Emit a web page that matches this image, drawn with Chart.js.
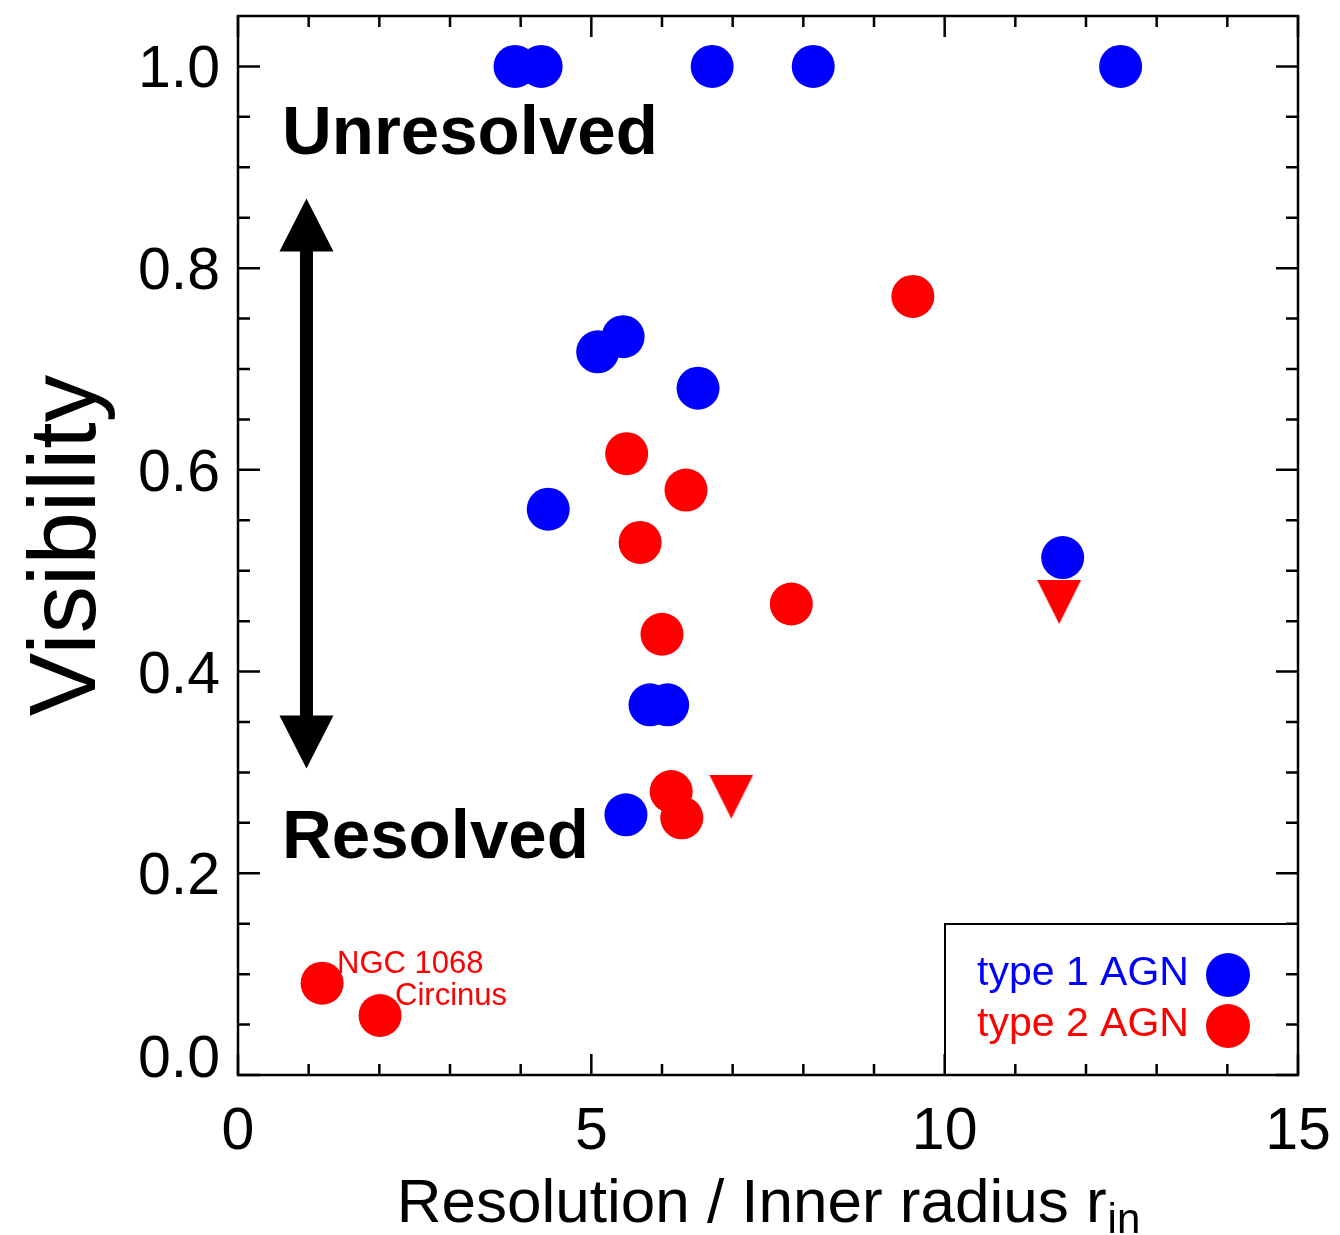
<!DOCTYPE html>
<html lang="en">
<head>
<meta charset="UTF-8">
<title>Visibility vs Resolution</title>
<script src="https://cdn.jsdelivr.net/npm/chart.js"></script>
<style>
  html, body { margin: 0; padding: 0; background: #fff; }
  #wrap { width: 1340px; height: 1235px; }
</style>
</head>
<body>
<div id="wrap"><canvas id="visChart" width="1340" height="1235"></canvas></div>
<script>
// type 1 AGN (blue)
const type1X = [3.92, 4.29, 6.71, 8.14, 12.49, 5.09, 5.45, 6.51, 4.39, 11.67, 5.83, 6.08, 5.49];
const type1Y = [1.00, 1.00, 1.00, 1.00, 1.00, 0.717, 0.732, 0.681, 0.561, 0.513, 0.367, 0.367, 0.258];
// type 2 AGN (red)
const type2X = [9.55, 5.50, 6.34, 5.69, 7.83, 6.00, 6.13, 6.28, 1.19, 2.01];
const type2Y = [0.772, 0.616, 0.580, 0.528, 0.467, 0.437, 0.281, 0.255, 0.091, 0.059];
// type 2 upper limits (down triangles)
const limitX = [6.98, 11.62];
const limitY = [0.276, 0.469];

const xTicks = [0, 5, 10, 15];
const yTicks = [0.0, 0.2, 0.4, 0.6, 0.8, 1.0];
const xRange = [0, 15];
const yRange = [0, 1.05];

const namedSources = ['NGC 1068', 'Circinus'];
const namedX = [1.19, 2.01];
const namedY = [0.091, 0.059];

const FONT = '"Liberation Sans", Arial, Helvetica, sans-serif';
const BLUE = '#0000ff';
const RED = '#ff0000';

function toPoints(xs, ys) {
    return xs.map((x, i) => ({ x: x, y: ys[i] }));
}

// little down-pointing triangle used as the point style of the limits
function triangleMarker(size, color) {
    const c = document.createElement('canvas');
    c.width = size;
    c.height = size;
    const g = c.getContext('2d');
    g.fillStyle = color;
    g.beginPath();
    g.moveTo(0, 0);
    g.lineTo(size, 0);
    g.lineTo(size / 2, size);
    g.closePath();
    g.fill();
    return c;
}

function drawArrow(ctx, x, yTop, yBottom) {
    const head = 53, halfHead = 27, halfShaft = 6.5;
    ctx.beginPath();
    ctx.moveTo(x, yTop);
    ctx.lineTo(x + halfHead, yTop + head);
    ctx.lineTo(x + halfShaft, yTop + head);
    ctx.lineTo(x + halfShaft, yBottom - head);
    ctx.lineTo(x + halfHead, yBottom - head);
    ctx.lineTo(x, yBottom);
    ctx.lineTo(x - halfHead, yBottom - head);
    ctx.lineTo(x - halfShaft, yBottom - head);
    ctx.lineTo(x - halfShaft, yTop + head);
    ctx.lineTo(x - halfHead, yTop + head);
    ctx.closePath();
    ctx.fill();
}

function noScalePadding(s) {
    s.paddingTop = 0;
    s.paddingBottom = 0;
    s.paddingLeft = 0;
    s.paddingRight = 0;
}

const agnPlot = {
    id: 'agnPlot',
    afterDraw(chart) {
        const ctx = chart.ctx;
        const a = chart.chartArea;
        const xs = chart.scales.x;
        const ys = chart.scales.y;
        ctx.save();

        // legend box (no fill, ticks drawn over it)
        ctx.strokeStyle = '#000';
        ctx.lineWidth = 2;
        ctx.strokeRect(a.right - 353, a.bottom - 151, 353, 151);
        ctx.font = '41px ' + FONT;
        ctx.textAlign = 'left';
        ctx.textBaseline = 'alphabetic';
        const entries = chart.data.datasets.filter(d => d.inLegend);
        entries.forEach((d, i) => {
            const base = a.bottom - 90 + i * 51;
            ctx.fillStyle = d.backgroundColor;
            ctx.fillText(d.label, a.right - 321, base);
            ctx.beginPath();
            ctx.arc(a.right - 70, base - 10, 22, 0, Math.PI * 2);
            ctx.fill();
        });

        // frame and inward ticks on all four sides
        ctx.strokeStyle = '#000';
        ctx.lineWidth = 2.5;
        ctx.beginPath();
        for (let i = 0; i <= 15; i++) {
            const v = xRange[0] + i;
            const px = xs.getPixelForValue(v);
            const len = xTicks.includes(v) ? 21 : 11;
            ctx.moveTo(px, a.bottom); ctx.lineTo(px, a.bottom - len);
            ctx.moveTo(px, a.top); ctx.lineTo(px, a.top + len);
        }
        for (let i = 0; i <= 20; i++) {
            const v = i * 0.05;
            const py = ys.getPixelForValue(v);
            const len = (i % 4 === 0) ? 22 : 12;
            ctx.moveTo(a.left, py); ctx.lineTo(a.left + len, py);
            ctx.moveTo(a.right, py); ctx.lineTo(a.right - len, py);
        }
        ctx.stroke();
        ctx.strokeRect(a.left, a.top, a.right - a.left, a.bottom - a.top);

        // y tick labels
        ctx.fillStyle = '#000';
        ctx.font = '59px ' + FONT;
        ctx.textAlign = 'right';
        ctx.textBaseline = 'alphabetic';
        yTicks.forEach((v, i) => {
            const py = ys.getPixelForValue(v);
            const base = i === 0 ? a.bottom + 2 : py + 21;
            ctx.fillText(v.toFixed(1), a.left - 18, base);
        });

        // axis titles
        ctx.font = '95px ' + FONT;
        ctx.textAlign = 'center';
        ctx.save();
        ctx.translate(95, (a.top + a.bottom) / 2);
        ctx.rotate(-Math.PI / 2);
        ctx.fillText('Visibility', 0, 0);
        ctx.restore();

        const mainTxt = 'Resolution / Inner radius r';
        const subTxt = 'in';
        ctx.font = '62px ' + FONT;
        const wMain = ctx.measureText(mainTxt).width;
        ctx.font = '42px ' + FONT;
        const wSub = ctx.measureText(subTxt).width;
        const x0 = (a.left + a.right) / 2 - (wMain + wSub) / 2;
        ctx.textAlign = 'left';
        ctx.font = '62px ' + FONT;
        ctx.fillText(mainTxt, x0, 1222);
        ctx.font = '42px ' + FONT;
        ctx.fillText(subTxt, x0 + wMain + 1, 1233);

        // annotations
        ctx.font = 'bold 69px ' + FONT;
        ctx.fillText('Unresolved', xs.getPixelForValue(0.623), ys.getPixelForValue(0.9136));
        ctx.fillText('Resolved', xs.getPixelForValue(0.623), ys.getPixelForValue(0.2149));
        drawArrow(ctx, xs.getPixelForValue(0.969), ys.getPixelForValue(0.869), ys.getPixelForValue(0.304));

        ctx.fillStyle = RED;
        ctx.font = '31px ' + FONT;
        namedSources.forEach((name, i) => {
            ctx.fillText(name, xs.getPixelForValue(namedX[i]) + 15, ys.getPixelForValue(namedY[i]) - 10);
        });
        ctx.restore();
    }
};

const ctx = document.getElementById('visChart').getContext('2d');
const visChart = new Chart(ctx, {
    type: 'scatter',
    data: {
        datasets: [
            {
                label: 'type 1 AGN',
                inLegend: true,
                data: toPoints(type1X, type1Y),
                backgroundColor: BLUE,
                borderWidth: 0,
                pointRadius: 21.5,
            },
            {
                label: 'type 2 AGN',
                inLegend: true,
                data: toPoints(type2X, type2Y),
                backgroundColor: RED,
                borderWidth: 0,
                pointRadius: 21.5,
            },
            {
                label: 'type 2 AGN (limit)',
                inLegend: false,
                data: toPoints(limitX, limitY),
                backgroundColor: RED,
                borderWidth: 0,
                pointStyle: triangleMarker(44, RED),
                pointRadius: 22,
            }
        ]
    },
    options: {
        responsive: false,
        animation: false,
        events: [],
        layout: { autoPadding: false, padding: { top: 16, right: 42, left: 0, bottom: 0 } },
        plugins: {
            legend: { display: false },
            tooltip: { enabled: false }
        },
        scales: {
            x: {
                type: 'linear',
                min: xRange[0],
                max: xRange[1],
                grid: { display: false, drawTicks: false },
                border: { display: false },
                afterBuildTicks: s => { s.ticks = xTicks.map(v => ({ value: v })); },
                ticks: {
                    autoSkip: false,
                    maxRotation: 0,
                    padding: 22,
                    color: '#000',
                    font: { family: FONT, size: 59 },
                    callback: v => String(v)
                },
                afterFit: s => { s.height = 160; noScalePadding(s); }
            },
            y: {
                type: 'linear',
                min: yRange[0],
                max: yRange[1],
                grid: { display: false, drawTicks: false },
                border: { display: false },
                afterBuildTicks: s => { s.ticks = yTicks.map(v => ({ value: v })); },
                ticks: { display: false },
                afterFit: s => { s.width = 238; noScalePadding(s); }
            }
        }
    },
    plugins: [agnPlot]
});
</script>
</body>
</html>
